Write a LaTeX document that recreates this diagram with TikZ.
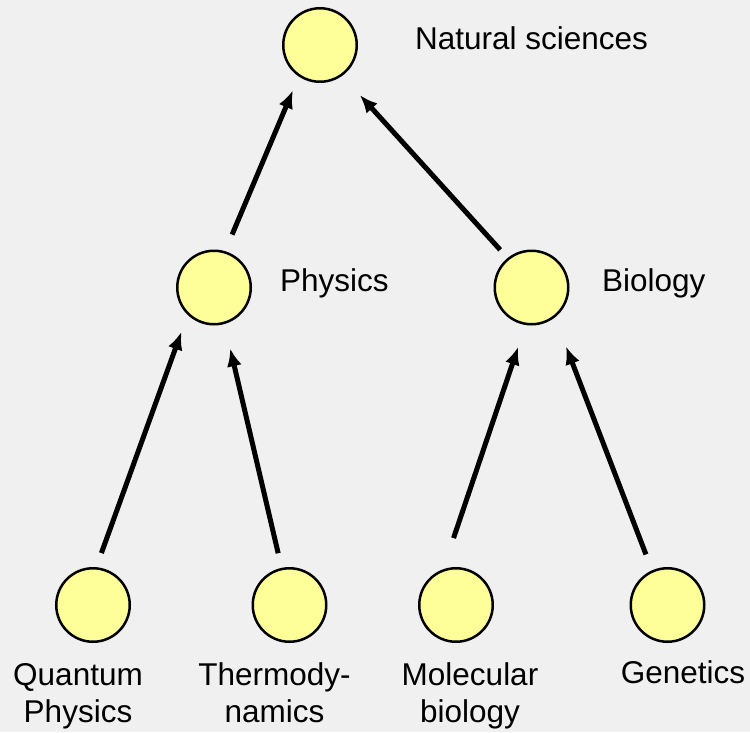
\documentclass[tikz,border=0pt]{standalone}
\usepackage{fontspec}
\setmainfont{Liberation Sans}
\usepackage{xcolor}
\usepackage{tikz}
\usetikzlibrary{arrows.meta, positioning}

\definecolor{bggray}{HTML}{F0F0F0}
\definecolor{conceptfill}{HTML}{FFFF99}

\begin{document}
\begin{tikzpicture}[x=1pt, y=-1pt,
    concept/.style={circle, draw, line width=2.5pt, fill=conceptfill, minimum size=73.5pt, inner sep=0pt},
    caption/.style={inner sep=0pt, align=center, font=\fontsize{31.5}{37}\selectfont},
    subof/.style={-{Latex[length=18pt, width=15pt]}, line width=5pt}]

    \path [fill=bggray, use as bounding box] (0,0) rectangle (750,732);

    % concept circles
    \node [concept] (nat) at (320,45) {};
    \node [concept] (phys) at (214,287.5) {};
    \node [concept] (bio) at (531.5,287.5) {};
    \node [concept] (qp) at (93,605) {};
    \node [concept] (thermo) at (289.5,605) {};
    \node [concept] (molbio) at (456,605) {};
    \node [concept] (gen) at (667.5,605) {};

    % captions
    \node [caption, anchor=base west] (natlbl) at (415,49) {Natural sciences};
    \node [caption, anchor=base west] (physlbl) at (280,291) {Physics};
    \node [caption, anchor=base west] (biolbl) at (602,291) {Biology};
    \node [caption, anchor=base] (qplbl) at (78,722) {Quantum\\Physics};
    \node [caption, anchor=base] (thermolbl) at (274.5,722) {Thermody-\\namics};
    \node [caption, anchor=base] (molbiolbl) at (470,722) {Molecular\\biology};
    \node [caption, anchor=base] (genlbl) at (683,683) {Genetics};

    \draw [subof, shorten <=15pt, shorten >=18pt] (qp.85) -- (phys.-134);
    \draw [subof, shorten <=15pt, shorten >=25pt] (thermo.102) -- (phys.-74);
    \draw [subof, shorten <=33pt, shorten >=23pt] (molbio.110) -- (bio.-99);
    \draw [subof, shorten <=17pt, shorten >=31pt] (gen.114) -- (bio.-52);
    \draw [subof, shorten <=18pt, shorten >=15pt] (phys.73) -- (nat.-124);
    \draw [subof, shorten <=11pt, shorten >=26pt] (bio.129) -- (nat.-54);
\end{tikzpicture}
\end{document}
